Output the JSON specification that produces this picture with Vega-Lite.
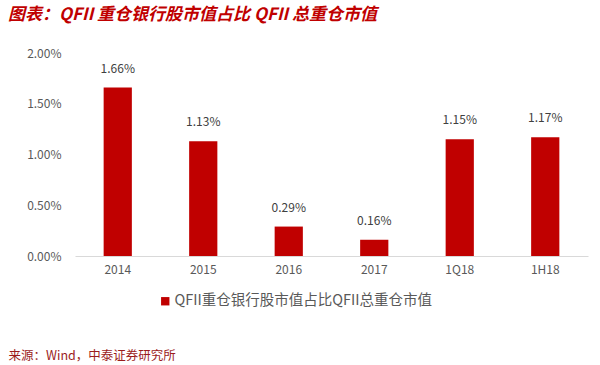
{
  "$schema": "https://vega.github.io/schema/vega-lite/v6.json",
  "autosize": {"type": "none"},
  "padding": {"left": 75, "top": 53, "right": 12, "bottom": 109},
  "width": 513,
  "height": 203,
  "background": "white",
  "title": {
    "text": "图表：QFII 重仓银行股市值占比 QFII 总重仓市值",
    "anchor": "start",
    "frame": "group",
    "dx": -67,
    "offset": 23,
    "font": "Noto Sans CJK SC",
    "fontSize": 17,
    "fontWeight": "bold",
    "fontStyle": "italic",
    "color": "#c00000"
  },
  "data": {
    "values": [
      {"period": "2014", "value": 0.0166, "series": "QFII重仓银行股市值占比QFII总重仓市值"},
      {"period": "2015", "value": 0.0113, "series": "QFII重仓银行股市值占比QFII总重仓市值"},
      {"period": "2016", "value": 0.0029, "series": "QFII重仓银行股市值占比QFII总重仓市值"},
      {"period": "2017", "value": 0.0016, "series": "QFII重仓银行股市值占比QFII总重仓市值"},
      {"period": "1Q18", "value": 0.0115, "series": "QFII重仓银行股市值占比QFII总重仓市值"},
      {"period": "1H18", "value": 0.0117, "series": "QFII重仓银行股市值占比QFII总重仓市值"}
    ]
  },
  "encoding": {
    "x": {
      "field": "period",
      "type": "nominal",
      "sort": null,
      "scale": {"paddingInner": 0.67, "paddingOuter": 0.335},
      "axis": {
        "title": "来源：Wind，中泰证券研究所",
        "titleAnchor": "start",
        "titleAlign": "left",
        "titleX": -67,
        "titleY": 99,
        "titleBaseline": "middle",
        "titleFont": "Noto Sans CJK SC",
        "titleFontSize": 12.5,
        "titleFontWeight": "normal",
        "titleColor": "#9b1c1c",
        "labelAngle": 0,
        "labelFont": "Noto Sans CJK SC",
        "labelFontSize": 12,
        "labelColor": "#595959",
        "labelPadding": 8,
        "ticks": false,
        "domainColor": "#d9d9d9",
        "domainWidth": 1,
        "grid": false
      }
    }
  },
  "layer": [
    {
      "mark": {"type": "bar", "color": "#c00000"},
      "encoding": {
        "y": {
          "field": "value",
          "type": "quantitative",
          "scale": {"domain": [0, 0.02]},
          "axis": {
            "title": null,
            "format": ".2%",
            "values": [0, 0.005, 0.01, 0.015, 0.02],
            "labelFont": "Noto Sans CJK SC",
            "labelFontSize": 12,
            "labelColor": "#595959",
            "labelPadding": 14,
            "ticks": false,
            "domain": false,
            "grid": false
          }
        },
        "color": {
          "field": "series",
          "type": "nominal",
          "scale": {"range": ["#c00000"]},
          "legend": {
            "title": null,
            "orient": "none",
            "legendX": 83,
            "legendY": 241,
            "symbolType": "square",
            "symbolSize": 70,
            "symbolStrokeWidth": 0,
            "labelFont": "Noto Sans CJK SC",
            "labelFontSize": 14.5,
            "labelColor": "#595959",
            "labelOffset": 2,
            "labelLimit": 0
          }
        }
      }
    },
    {
      "mark": {"type": "text", "dy": -19, "font": "Noto Sans CJK SC", "fontSize": 12, "color": "#404040"},
      "encoding": {
        "y": {"field": "value", "type": "quantitative"},
        "text": {"field": "value", "type": "quantitative", "format": ".2%"}
      }
    }
  ],
  "config": {"view": {"stroke": null}}
}
